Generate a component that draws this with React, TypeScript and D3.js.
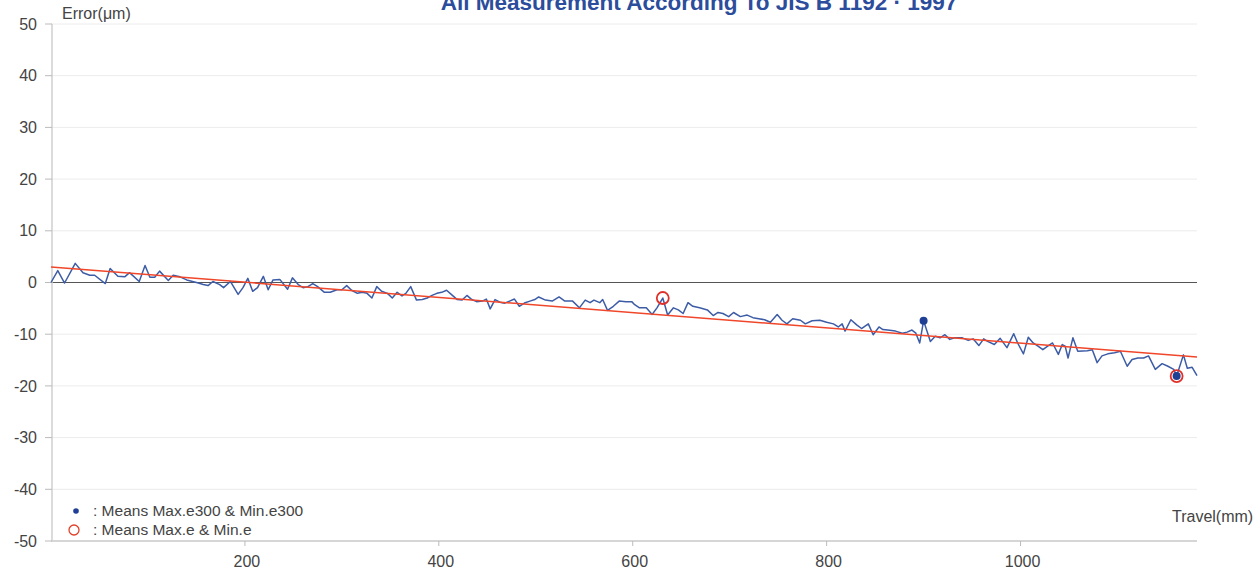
import React from 'react';
import * as d3 from 'd3';

const travel = [
  0, 7, 14, 25, 33, 40, 45, 56, 61, 69, 76, 81, 91, 97, 102, 107, 112, 121, 126, 133,
  140, 146, 152, 157, 162, 167, 174, 178, 185, 193, 198, 203, 208, 213, 219, 224, 229, 236, 244, 249,
  255, 260, 265, 270, 275, 282, 288, 295, 300, 305, 310, 316, 321, 326, 331, 336, 341, 347, 352, 357,
  362, 366, 371, 377, 383, 388, 393, 398, 403, 408, 414, 419, 424, 429, 434, 439, 445, 449, 453, 458,
  463, 468, 473, 478, 483, 489, 494, 499, 503, 510, 517, 524, 530, 538, 545, 551, 556, 560, 566, 569,
  574, 580, 586, 593, 599, 602, 607, 614, 620, 625, 631, 636, 642, 647, 652, 657, 662, 669, 677, 683,
  688, 693, 699, 704, 711, 718, 724, 730, 736, 742, 749, 754, 759, 765, 773, 778, 785, 793, 800, 807,
  812, 816, 819, 825, 831, 836, 843, 848, 854, 858, 863, 871, 878, 883, 888, 892, 896, 900, 907, 912,
  917, 922, 927, 932, 940, 946, 951, 957, 962, 966, 973, 979, 986, 993, 997, 1003, 1008, 1013, 1018, 1023,
  1028, 1033, 1039, 1043, 1046, 1049, 1054, 1059, 1069, 1074, 1079, 1084, 1090, 1097, 1103, 1110, 1115, 1121, 1127, 1132,
  1139, 1146, 1152, 1158, 1161, 1168, 1172, 1177, 1182,
];
const error = [
  0.0, 2.3, -0.1, 3.7, 1.9, 1.4, 1.4, -0.2, 2.7, 1.2, 1.1, 1.9, 0.2, 3.3, 1.0, 1.0, 2.2, 0.4, 1.4, 1.1,
  0.5, 0.2, -0.1, -0.4, -0.6, 0.2, -0.4, -1.0, 0.2, -2.3, -1.0, 0.8, -1.7, -1.0, 1.2, -1.4, 0.5, 0.6, -1.3, 0.9,
  -0.4, -1.0, -0.8, -0.2, -0.8, -1.9, -1.9, -1.4, -1.4, -0.6, -1.5, -2.1, -1.9, -2.1, -3.0, -0.8, -1.7, -2.1, -3.0, -1.9,
  -2.6, -2.1, -0.8, -3.4, -3.3, -3.0, -2.5, -2.1, -1.9, -1.5, -2.5, -3.3, -3.4, -2.5, -3.3, -3.7, -3.6, -3.2, -5.1, -3.3,
  -3.8, -4.0, -3.6, -3.2, -4.6, -3.9, -3.6, -3.3, -2.8, -3.4, -3.6, -2.8, -3.6, -3.6, -4.9, -3.4, -3.9, -3.4, -3.9, -3.3,
  -5.4, -4.6, -3.6, -3.7, -3.7, -4.3, -4.9, -4.9, -6.2, -4.9, -3.0, -6.3, -4.9, -5.3, -6.0, -3.9, -4.6, -4.9, -5.3, -6.4,
  -5.8, -6.0, -6.6, -5.8, -6.6, -6.3, -6.8, -7.0, -7.2, -7.7, -6.2, -7.3, -8.0, -7.0, -7.3, -8.0, -7.4, -7.3, -7.7, -8.0,
  -8.6, -8.0, -9.4, -7.2, -8.2, -8.9, -8.0, -10.1, -8.6, -9.1, -9.2, -9.4, -9.8, -9.6, -9.2, -9.8, -11.7, -7.4, -11.4, -10.4,
  -10.7, -10.1, -11.0, -10.7, -10.7, -11.2, -10.9, -12.2, -10.9, -11.4, -12.0, -10.8, -12.6, -9.9, -11.7, -13.8, -10.6, -11.7, -12.3, -13.0,
  -12.3, -11.7, -13.9, -12.0, -12.3, -14.6, -10.7, -13.3, -13.2, -13.0, -15.5, -14.2, -13.8, -13.6, -13.3, -16.2, -14.9, -14.6, -14.6, -14.2,
  -16.8, -15.7, -16.2, -16.8, -18.1, -14.0, -16.6, -16.4, -18.0,
];

// straight fit line end points
const trendTravel = [0, 1182];
const trendError = [3.0, -14.4];

// Max.e300 / Min.e300 (filled dots) and Max.e / Min.e (open circles)
const e300Travel = [900, 1161];
const e300Error = [-7.4, -18.1];
const eTravel = [631, 1161];
const eError = [-3.0, -18.1];

const yTicks = [50, 40, 30, 20, 10, 0, -10, -20, -30, -40, -50];
const xTicks = [200, 400, 600, 800, 1000];

const W = 1254;
const H = 572;
const FONT = 'Arial, "Liberation Sans", sans-serif';

export default function App() {
  const x = d3.scaleLinear().domain([0, 1182]).range([51, 1197]);
  const y = d3.scaleLinear().domain([-50, 50]).range([541, 24]);

  const pts = travel.map((t, i) => [t, error[i]] as [number, number]);
  const line = d3
    .line<[number, number]>()
    .x((d) => x(d[0]))
    .y((d) => y(d[1]));
  const trend = trendTravel.map((t, i) => [t, trendError[i]] as [number, number]);

  const [x0, x1] = x.range();

  return (
    <div style={{position: 'fixed', left: 0, top: 0}}>
      <svg width={W} height={H} style={{display: 'block', background: '#fff'}} fontFamily={FONT}>
        {/* grid */}
        {yTicks.map((t) => (
          <line key={'g' + t} x1={x0} x2={x1} y1={y(t)} y2={y(t)}
            stroke={t === 0 ? '#555' : t === -50 ? '#c8c8c8' : '#ececec'}
            strokeWidth={t === 0 ? 1.2 : t === -50 ? 1.5 : 1} />
        ))}
        {/* y axis */}
        <line x1={52} x2={52} y1={y(50)} y2={y(-50)} stroke="#cfcfcf" strokeWidth={1.5} />
        {yTicks.map((t) => (
          <g key={'y' + t}>
            <line x1={45} x2={52} y1={y(t)} y2={y(t)} stroke="#bbb" />
            <text x={37} y={y(t)} dy="0.35em" textAnchor="end" fontSize={16} fill="#444">{t}</text>
          </g>
        ))}
        {/* x axis */}
        {xTicks.map((t) => (
          <g key={'x' + t}>
            <line x1={x(t)} x2={x(t)} y1={541} y2={546} stroke="#bbb" />
            <text x={x(t) + 2} y={567} textAnchor="middle" fontSize={16} fill="#444">{t}</text>
          </g>
        ))}
        <text x={62} y={19} fontSize={16} fill="#444">Error(μm)</text>
        <text x={1172} y={522} fontSize={16} fill="#444">Travel(mm)</text>

        {/* title */}
        <text x={699} y={10} textAnchor="middle" fontSize={22.5} fontWeight="bold" fill="#2c4c9c">
          All Measurement According To JIS B 1192 · 1997
        </text>

        {/* measurement and fit */}
        <path d={line(pts) || ''} fill="none" stroke="#3d5ca6" strokeWidth={1.5} strokeLinejoin="round" />
        <path d={line(trend) || ''} fill="none" stroke="#f0462a" strokeWidth={1.5} />

        {/* markers */}
        {e300Travel.map((t, i) => (
          <circle key={'d' + i} cx={x(t)} cy={y(e300Error[i])} r={4} fill="#1f3f94" />
        ))}
        {eTravel.map((t, i) => (
          <circle key={'c' + i} cx={x(t)} cy={y(eError[i])} r={6} fill="none" stroke="#e0302a" strokeWidth={1.8} />
        ))}

        {/* legend */}
        <circle cx={76} cy={511} r={2.8} fill="#1f3f94" />
        <text x={93} y={511} dy="0.35em" fontSize={15.5} fill="#444">: Means Max.e300 &amp; Min.e300</text>
        <circle cx={74} cy={530} r={5} fill="none" stroke="#e0402a" strokeWidth={1.3} />
        <text x={93} y={530} dy="0.35em" fontSize={15.5} fill="#444">: Means Max.e &amp; Min.e</text>
      </svg>
    </div>
  );
}
